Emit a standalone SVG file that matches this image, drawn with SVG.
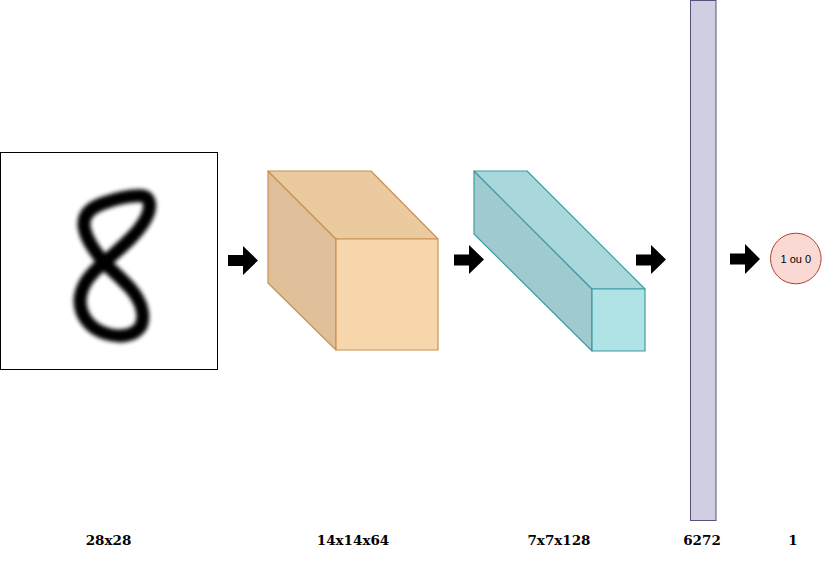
<svg xmlns="http://www.w3.org/2000/svg" width="839" height="562" viewBox="0 0 839 562">
<defs>
<style>
.lbl{font-family:"DejaVu Serif",serif;font-weight:bold;font-size:13.5px;fill:#000;text-anchor:middle}
.arr{fill:#000}
.o{stroke:#c8924f;stroke-width:1.2;stroke-linejoin:round}
.t{stroke:#3e9ba1;stroke-width:1.2;stroke-linejoin:round}
</style>
<filter id="blur" x="-20%" y="-20%" width="140%" height="140%"><feGaussianBlur stdDeviation="2"/></filter>
<clipPath id="imgclip"><rect x="1" y="153" width="216" height="216"/></clipPath>
</defs>
<g id="input">
<rect x="0.5" y="152.5" width="217" height="217" fill="#fff" stroke="#000" stroke-width="1"/>
<g clip-path="url(#imgclip)">
<g filter="url(#blur)" fill="none" stroke="#000" stroke-width="13" stroke-linecap="round" stroke-linejoin="round">
<path d="M104,263 C96,252 86,240 84,226 C83,214 92,207 104,203 C118,198 132,195 143,196 C152,198 151,210 145,220 C137,235 118,250 104,263 Z"/>
<path d="M104,263 C92,272 81,285 80,300 C80,316 90,328 104,333 C118,338 134,337 141,326 C146,314 140,300 131,289 C122,279 112,270 104,263 Z"/>
</g>
</g>
</g>
<g id="conv1">
<polygon class="o" points="268,171 336,239 336,350 268,283" fill="#e0c09a"/>
<polygon class="o" points="268,171 371,171 438,239 336,239" fill="#ecca9f"/>
<rect class="o" x="336" y="239" width="102" height="111" fill="#f8d6ac"/>
</g>
<g id="conv2">
<polygon class="t" points="474,171 592,289 592,351 474,234" fill="#a0cbce"/>
<polygon class="t" points="474,171 527,171 645,289 592,289" fill="#a8d8dc"/>
<rect class="t" x="592" y="289" width="53" height="62" fill="#b0e3e6"/>
</g>
<g id="flatten">
<rect x="690.5" y="0.5" width="25.5" height="520" fill="#d0cee2" stroke="#56517e" stroke-width="1"/>
</g>
<g id="output">
<circle cx="795.8" cy="258.5" r="25.3" fill="#fad9d5" stroke="#ae4132" stroke-width="1"/>
<text x="795.8" y="262.5" font-family="Liberation Sans,Arial,sans-serif" font-size="11" text-anchor="middle" fill="#000">1 ou 0</text>
</g>
<g id="connectors">
<path class="arr" d="M228,255 H243 V246 L258,260.5 L243,275 V266 H228 Z"/>
<path class="arr" d="M454,254.5 H469 V245 L484,259.5 L469,274 V265.5 H454 Z"/>
<path class="arr" d="M636,254.5 H651 V245 L666,259.5 L651,274 V265.5 H636 Z"/>
<path class="arr" d="M730,253.5 H745 V244 L760,259 L745,274 V264.5 H730 Z"/>
</g>
<g id="labels">
<text class="lbl" x="108.5" y="545">28x28</text>
<text class="lbl" x="353" y="545">14x14x64</text>
<text class="lbl" x="559" y="545">7x7x128</text>
<text class="lbl" x="702" y="545">6272</text>
<text class="lbl" x="793" y="545">1</text>
</g>
</svg>
